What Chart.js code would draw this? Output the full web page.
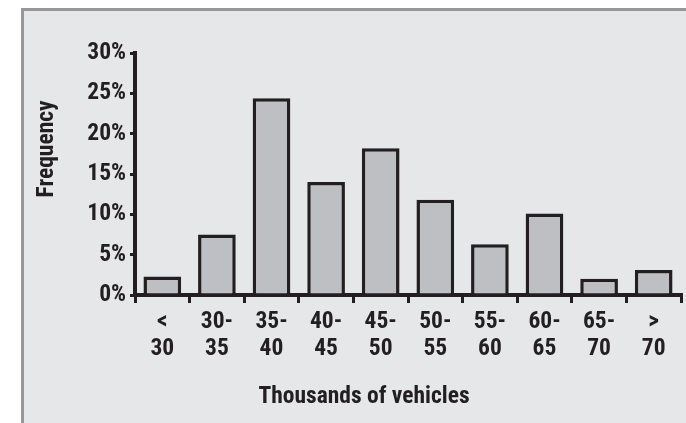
<!DOCTYPE html>
<html>
<head>
<meta charset="utf-8">
<script src="https://cdn.jsdelivr.net/npm/chart.js@4"></script>
<style>
  body { margin: 0; background: #fff; }
  #frame {
    position: absolute; left: 21px; top: 8px;
    width: 662px; height: 412px;
    border-left: 3px solid #98989a; border-top: 3px solid #98989a;
    background: #e6e7e9;
  }
  canvas { display: block; }
</style>
</head>
<body>
<div id="frame"><canvas id="freq_chart" width="662" height="412"></canvas></div>
<script>
  const categories = [['<', '30'], ['30-', '35'], ['35-', '40'], ['40-', '45'], ['45-', '50'],
                      ['50-', '55'], ['55-', '60'], ['60-', '65'], ['65-', '70'], ['>', '70']]
  const frequency = [2.3, 7.5, 24.4, 14.0, 18.2, 11.8, 6.3, 10.1, 2.0, 3.1]
  const yTicks = [0, 5, 10, 15, 20, 25, 30]

  const ink = '#231f20'
  const fontFamily = "'Roboto Condensed', 'DejaVu Sans Condensed', sans-serif"

  // axis titles are placed by hand, the originals are not centred on the axes
  const axisTitles = {
    id: 'axisTitles',
    afterDraw(chart) {
      const { ctx, chartArea } = chart
      ctx.save()
      ctx.fillStyle = ink
      ctx.font = `bold 23.5px ${fontFamily}`
      ctx.textAlign = 'center'
      ctx.textBaseline = 'middle'
      ctx.fillText('Thousands of vehicles', chartArea.left + 229, chartArea.bottom + 102)
      ctx.translate(23, chartArea.top + 96)
      ctx.rotate(-Math.PI / 2)
      ctx.fillText('Frequency', 0, 0)
      ctx.restore()
    }
  }

  new Chart(
    document.getElementById('freq_chart'),
    {
      type: 'bar',
      data: {
        labels: categories,
        datasets: [
          {
            label: 'Frequency',
            data: frequency,
            backgroundColor: '#bebfc2',
            borderColor: ink,
            borderWidth: 3.5,
            barPercentage: 0.69,
            categoryPercentage: 1
          }
        ]
      },
      options: {
        responsive: false,
        animation: false,
        layout: { padding: { top: 42, right: 5, left: 0, bottom: 0 } },
        plugins: {
          legend: { display: false },
          tooltip: { enabled: false }
        },
        scales: {
          x: {
            border: { display: true, color: ink, width: 4 },
            grid: {
              display: true,
              drawOnChartArea: false,
              color: ink,
              lineWidth: 3,
              tickLength: 8
            },
            ticks: {
              color: ink,
              padding: 6,
              maxRotation: 0,
              autoSkip: false,
              font: { family: fontFamily, size: 23.5, weight: 'bold', lineHeight: 1.14 }
            },
            afterFit: s => { s.height = 128 }
          },
          y: {
            min: 0,
            max: 30,
            border: { display: true, color: ink, width: 4 },
            grid: {
              display: true,
              drawOnChartArea: false,
              color: ink,
              lineWidth: 3,
              tickLength: 5
            },
            afterBuildTicks: s => { s.ticks = yTicks.map(v => ({ value: v })) },
            ticks: {
              color: ink,
              padding: 4,
              callback: v => v + '%',
              font: { family: fontFamily, size: 23.5, weight: 'bold' }
            },
            afterFit: s => { s.width = 111 }
          }
        }
      },
      plugins: [axisTitles]
    }
  );
</script>
</body>
</html>
